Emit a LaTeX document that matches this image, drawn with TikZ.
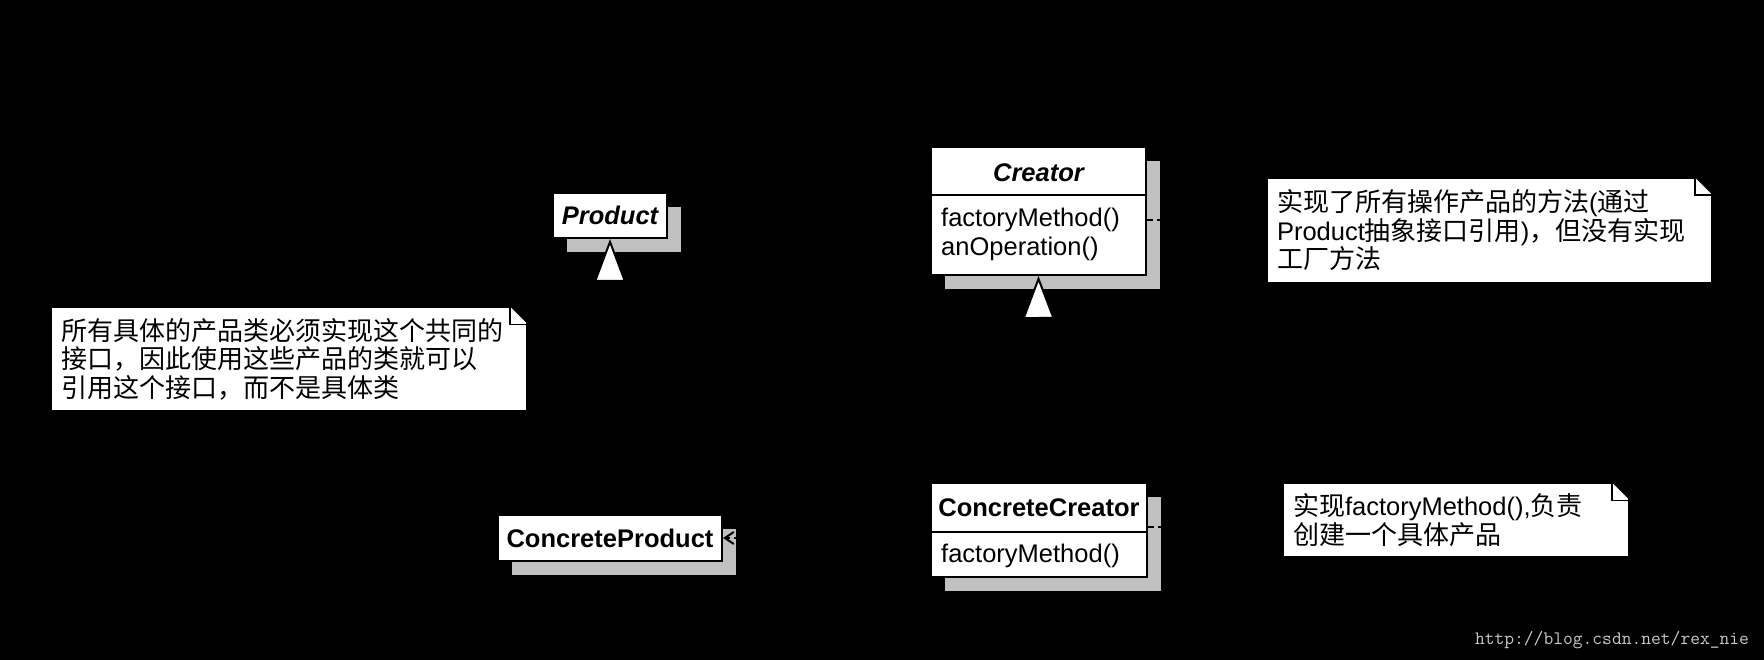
\documentclass[tikz,border=0pt]{standalone}
\usepackage{fontspec}
\setmainfont{Liberation Sans}
\newfontfamily\cjkfont[Scale=1.02]{Noto Sans CJK SC}
\usetikzlibrary{arrows.meta,shadows,calc}
\newcommand\zh[1]{{\cjkfont #1}}
\definecolor{shadowgray}{RGB}{192,192,192}
\definecolor{wmgray}{RGB}{200,200,200}
\newcommand\noteear[1]{%
  \fill[black] ([shift={(-18,0)}]#1.north east) -- ([shift={(2,0)}]#1.north east) -- ([shift={(2,20)}]#1.north east) -- ([shift={(0,18)}]#1.north east) -- cycle;
  \draw[line width=1.5pt, line join=miter] ([shift={(-18,0)}]#1.north east) -- ([shift={(-18,18)}]#1.north east) -- ([shift={(0,18)}]#1.north east);
}
\begin{document}
\begin{tikzpicture}[x=1pt,y=-1pt,
  every node/.style={font=\fontsize{25.5}{28.5}\selectfont},
  classbox/.style={draw=black, line width=2pt, fill=white, inner sep=0pt,
    drop shadow={shadow xshift=14pt, shadow yshift=-14pt, fill=shadowgray, opacity=1}},
  txt/.style={inner sep=0pt},
  note/.style={draw=black, line width=1.5pt, fill=white, inner xsep=10pt, inner ysep=0pt, align=left},
  divider/.style={draw=black, line width=2pt},
  dep/.style={draw=black, line width=2pt, dash pattern=on 6pt off 4pt},
  inh/.style={draw=black, line width=2pt, -{Triangle[length=43pt,width=32pt,fill=white]}}
]
\fill[black] (0,0) rectangle (1764,660);
\useasboundingbox (0,0) rectangle (1764,660);

% Product
\node[classbox, minimum width=114pt, minimum height=45pt] (product) at (610,215.5) {\raisebox{-2pt}{\bfseries\itshape Product}};

% Creator
\node[classbox, minimum width=215pt, minimum height=128pt] (creator) at (1038.5,211) {};
\node[txt] (creatorname) at (1038.5,172.5) {\bfseries\itshape Creator};
\coordinate (cdiv) at (1038.5,195);
\draw[divider] (creator.west |- cdiv) -- (creator.east |- cdiv);
\node[txt, anchor=west] (cm1) at (941,220) {factoryMethod()};
\node[txt, anchor=west] (cm2) at (941,249) {anOperation()};

% ConcreteCreator
\node[classbox, minimum width=216pt, minimum height=94pt] (ccreator) at (1039,530) {};
\node[txt] (ccname) at (1039,508) {\bfseries ConcreteCreator};
\coordinate (ccdiv) at (1039,532);
\draw[divider] (ccreator.west |- ccdiv) -- (ccreator.east |- ccdiv);
\node[txt, anchor=west] (ccm1) at (941,555.5) {factoryMethod()};

% ConcreteProduct
\node[classbox, minimum width=224pt, minimum height=46pt] (cproduct) at (610,538) {\raisebox{-1.5pt}{\bfseries ConcreteProduct}};

% Notes
\node[note, minimum width=445pt, minimum height=105pt, text width=425pt] (note1) at (1489.5,230.5)
  {\raisebox{-1.5pt}{\parbox{425pt}{\zh{实现了所有操作产品的方法}(\zh{通过}\\Product\zh{抽象接口引用})\zh{，但没有实现}\\\zh{工厂方法}}}};
\noteear{note1}
\node[note, minimum width=476pt, minimum height=104pt, text width=456pt] (note0) at (289,359)
  {\raisebox{-1.5pt}{\parbox{456pt}{\zh{所有具体的产品类必须实现这个共同的}\\\zh{接口，因此使用这些产品的类就可以}\\\zh{引用这个接口，而不是具体类}}}};
\noteear{note0}
\node[note, minimum width=346pt, minimum height=74pt, text width=326pt] (note2) at (1456,520)
  {\raisebox{-1.5pt}{\parbox{326pt}{\zh{实现}factoryMethod(),\zh{负责}\\\zh{创建一个具体产品}}}};
\noteear{note2}

% Connectors
\draw[inh] (cproduct.north) -- (product.south);
\draw[inh] (ccreator.north) -- (creator.south);
\draw[dep] (creator.east |- cm1) -- (note1.west |- cm1);
\coordinate (ccdash) at (1039,527);
\draw[dep] (ccreator.east |- ccdash) -- (note2.west |- ccdash);
\draw[dep, -{Straight Barb[length=9pt,width=12pt]}] (ccreator.west |- cproduct.east) -- (cproduct.east);

% Watermark
\node[txt, text=wmgray, font=\ttfamily\fontsize{19}{19}\selectfont] (wm) at (1612,640) {http://blog.csdn.net/rex\_nie};
\end{tikzpicture}
\end{document}
